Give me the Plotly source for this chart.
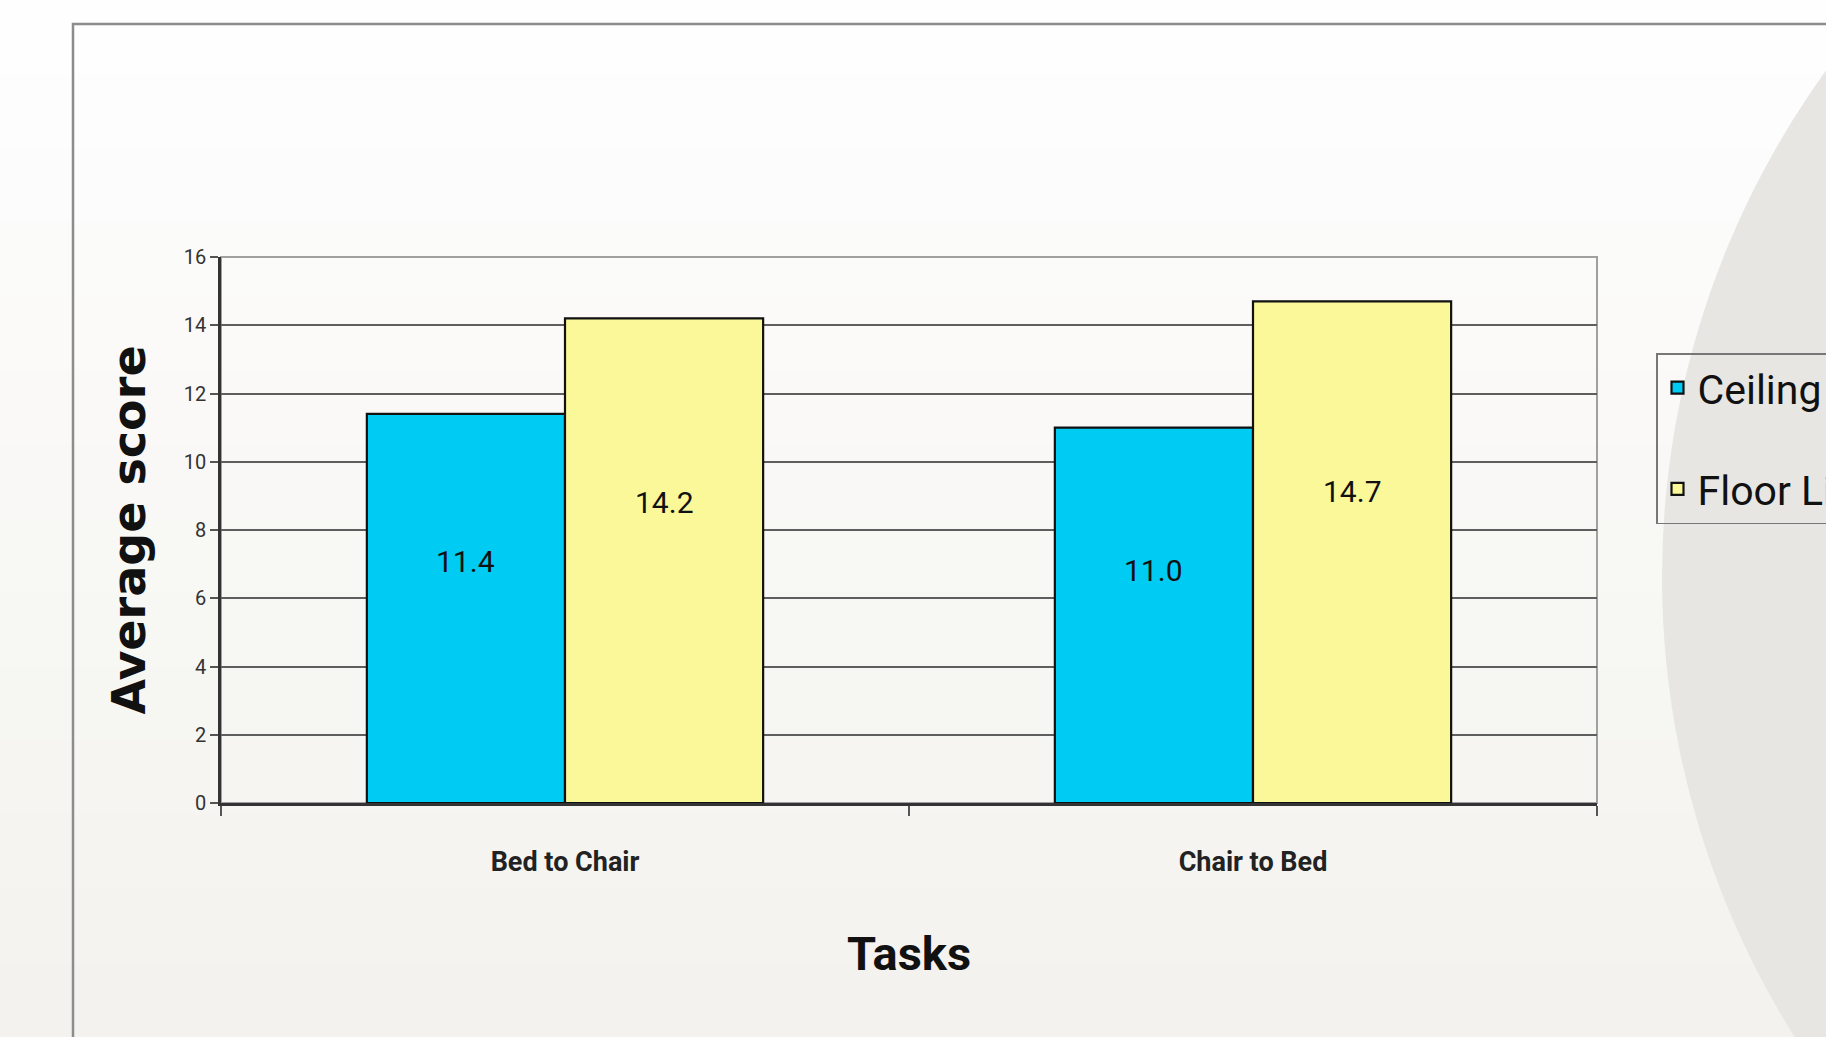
import plotly.graph_objects as go

categories = ["Bed to Chair", "Chair to Bed"]
series_names = ["Ceiling Lift", "Floor Lift"]
ceiling_values = [11.4, 11.0]
floor_values = [14.2, 14.7]
value_labels_ceiling = ["11.4", "11.0"]
value_labels_floor = ["14.2", "14.7"]
y_tick_values = [0, 2, 4, 6, 8, 10, 12, 14, 16]
y_tick_labels = ["0", "2", "4", "6", "8", "10", "12", "14", "16"]

W, H = 1826, 1037
ML, MR, MT, MB = 221, 229, 257, 234
PW, PH = W - ML - MR, H - MT - MB

NARROW = "Liberation Sans Narrow, Arial Narrow, Roboto, sans-serif"
BARGAP = 0.424

def px_x(p):
    return (p - ML) / PW

def px_y(p):
    return (H - MB - p) / PH

fig = go.Figure()
fig.add_trace(go.Bar(
    x=categories, y=ceiling_values, name=series_names[0],
    marker=dict(color="#00CBF3", line=dict(color="#111111", width=2.2)),
    legendgroup="a",
))
fig.add_trace(go.Bar(
    x=categories, y=floor_values, name=series_names[1],
    marker=dict(color="#FAF898", line=dict(color="#111111", width=2.2)),
    legendgroup="b",
))

# value labels placed inside bars (data coordinates through the axes)
half = (1 - BARGAP) / 4
annotations = []
for i, cat in enumerate(categories):
    for vals, labs, sign in ((ceiling_values, value_labels_ceiling, -1), (floor_values, value_labels_floor, 1)):
        annotations.append(dict(
            x=i + sign * half, y=vals[i] * 0.62, xref="x", yref="y",
            text=labs[i], showarrow=False,
            font=dict(family=NARROW, size=30, color="#111111"),
        ))

shapes = []
# background vertical gradient bands
top_c = (254, 254, 254)
bot_c = (243, 242, 238)
n = 14
for k in range(n):
    t = k / (n - 1)
    c = tuple(round(top_c[j] + (bot_c[j] - top_c[j]) * t) for j in range(3))
    y0p = H * k / n
    y1p = H * (k + 1) / n + 1
    shapes.append(dict(type="rect", xref="paper", yref="paper",
                       x0=px_x(-5), x1=px_x(W + 5), y0=px_y(y1p), y1=px_y(y0p),
                       line=dict(width=0), fillcolor="rgb(%d,%d,%d)" % c, layer="below"))
# large grey circle on the right
shapes.append(dict(type="circle", xref="paper", yref="paper",
                   x0=px_x(1662), x1=px_x(3390), y0=px_y(1441), y1=px_y(-287),
                   line=dict(width=0), fillcolor="#E7E6E3", layer="below"))
# outer frame
shapes.append(dict(type="rect", xref="paper", yref="paper",
                   x0=px_x(73), x1=px_x(W + 20), y0=px_y(H + 20), y1=px_y(24),
                   line=dict(color="#8C8C8C", width=2.5), fillcolor="rgba(0,0,0,0)", layer="below"))
# plot area border
shapes.append(dict(type="rect", xref="paper", yref="paper", x0=0, x1=1, y0=0, y1=1,
                   line=dict(color="#A0A0A0", width=2), fillcolor="rgba(0,0,0,0)", layer="below"))

fig.update_layout(
    width=W, height=H,
    margin=dict(l=ML, r=MR, t=MT, b=MB, autoexpand=False),
    paper_bgcolor="#F8F7F4",
    plot_bgcolor="rgba(0,0,0,0)",
    barmode="group", bargap=BARGAP, bargroupgap=0,
    showlegend=True,
    legend=dict(
        x=px_x(1656), y=px_y(353), xanchor="left", yanchor="top",
        bgcolor="rgba(0,0,0,0)", bordercolor="#777777", borderwidth=1.5,
        font=dict(family=NARROW, size=41, color="#111111"),
        tracegroupgap=45, itemwidth=30,
        traceorder="grouped",
    ),
    xaxis=dict(
        type="category",
        showline=True, linecolor="#333333", linewidth=2.5,
        ticks="outside", tickson="boundaries", ticklen=10, tickcolor="#555555", tickwidth=1.5,
        tickfont=dict(family=NARROW, size=27, color="#222222", weight="bold"),
        ticklabelstandoff=33,
        showgrid=False,
        title=dict(text="Tasks", font=dict(family=NARROW, size=47, color="#111111", weight="bold"), standoff=60),
    ),
    yaxis=dict(
        range=[0, 16], tickvals=y_tick_values, ticktext=y_tick_labels,
        showline=True, linecolor="#333333", linewidth=2.5,
        ticks="outside", ticklen=8, tickcolor="#555555", tickwidth=1.5,
        tickfont=dict(family=NARROW, size=20, color="#333333"),
        showgrid=True, gridcolor="#5E5E5E", gridwidth=1.5,
        zeroline=False,
        title=dict(text="Average score", font=dict(family="DejaVu Sans, sans-serif", size=46, color="#111111", weight="bold"), standoff=24),
    ),
    annotations=annotations,
    shapes=shapes,
)

fig.write_html("out.html")
